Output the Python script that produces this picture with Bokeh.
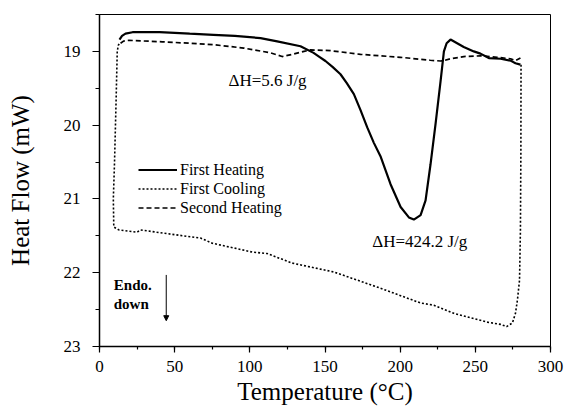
from bokeh.plotting import figure
from bokeh.models import Range1d, Legend, LegendItem, Arrow, NormalHead, Label, FixedTicker
from bokeh.embed import file_html
from bokeh.resources import INLINE

# First heating (solid)
heat1_T = [13.3, 15, 17.3, 22, 40, 60, 75.8, 90, 107.1, 118.2, 133.7, 142.4, 146, 150.3, 155,
           160.3, 164.5, 169.2, 173.5, 178.1, 182.5, 186.9, 193.6, 200.3, 205.8, 209.1, 213.6,
           216.9, 220.2, 223.5, 226.9, 229.1, 230.9, 233.5, 237.9, 242.3, 249, 253.4, 259,
           266.8, 273.4, 276.7, 280]
heat1_HF = [18.84, 18.79, 18.76, 18.74, 18.74, 18.76, 18.775, 18.79, 18.82, 18.865, 18.93,
            19.02, 19.07, 19.13, 19.21, 19.31, 19.43, 19.58, 19.79, 20.03, 20.24, 20.42, 20.80,
            21.11, 21.25, 21.28, 21.22, 21.02, 20.53, 19.99, 19.40, 19.0, 18.89, 18.84, 18.89,
            18.94, 19.0, 19.03, 19.09, 19.10, 19.125, 19.16, 19.18]

# First cooling (dotted)
cool_T = [280.4, 280.3, 280.0, 279.4, 278.0, 276.7, 274.7, 270.8, 266.8, 257.9, 235.7, 222.4,
          213.5, 186.9, 155.9, 128.2, 111.5, 101.6, 75, 67.2, 48.4, 27.3, 25, 12.9, 9.5,
          9.2, 10, 11, 11.8, 12.5, 13.5]
cool_HF = [19.18, 20.35, 21.42, 22.1, 22.37, 22.55, 22.68, 22.73, 22.70, 22.67, 22.55, 22.44,
           22.41, 22.21, 21.99, 21.87, 21.74, 21.72, 21.60, 21.53, 21.48, 21.42, 21.45, 21.42,
           21.38, 21.0, 20.5, 19.7, 19.0, 18.92, 18.88]

# Second heating (dashed)
heat2_T = [14, 16, 19.5, 41.7, 60, 76, 96, 113.8, 121.5, 128.2, 136, 140.4, 153.7, 173.6,
           200.2, 220, 226.8, 229, 233.5, 242.3, 253.4, 264.5, 273.4, 276.7, 280]
heat2_HF = [18.89, 18.86, 18.85, 18.87, 18.89, 18.91, 18.955, 19.02, 19.07, 19.04, 19.0, 18.98,
            18.99, 19.04, 19.08, 19.12, 19.13, 19.125, 19.10, 19.07, 19.06, 19.08, 19.10,
            19.125, 19.09]

x_ticks = [0, 50, 100, 150, 200, 250, 300]
y_ticks = [19, 20, 21, 22, 23]
series_names = ["First Heating", "First Cooling", "Second Heating"]

FONT = "Liberation Serif"

p = figure(width=567, height=407, output_backend="svg", toolbar_location=None,
           x_range=Range1d(0, 300), y_range=Range1d(23, 18.5),
           min_border_left=99, min_border_right=17, min_border_top=14, min_border_bottom=60)
p.background_fill_color = "white"
p.border_fill_color = "white"
p.outline_line_color = "black"
p.outline_line_width = 1
p.xgrid.visible = False
p.ygrid.visible = False

r1 = p.line(heat1_T, heat1_HF, line_color="black", line_width=2.2)
r2 = p.line(cool_T, cool_HF, line_color="black", line_width=1.6, line_dash="2 2")
r3 = p.line(heat2_T, heat2_HF, line_color="black", line_width=1.7, line_dash="5 3")

for ax in (p.xaxis[0], p.yaxis[0]):
    ax.axis_line_color = "black"
    ax.axis_line_width = 1.5
    ax.major_tick_line_color = "black"
    ax.minor_tick_line_color = "black"
    ax.major_tick_line_width = 1.2
    ax.minor_tick_line_width = 1.2
    ax.major_label_text_font = FONT
    ax.major_label_text_font_size = "17px"
    ax.major_label_text_color = "black"
    ax.axis_label_text_font = FONT
    ax.axis_label_text_font_size = "25px"
    ax.axis_label_text_font_style = "normal"
    ax.axis_label_text_color = "black"

p.xaxis.ticker = FixedTicker(ticks=x_ticks, minor_ticks=list(range(0, 301, 25)))
p.yaxis.ticker = FixedTicker(ticks=y_ticks, minor_ticks=[18.5 + 0.5 * i for i in range(10)])
p.xaxis.major_tick_out = 6
p.xaxis.major_tick_in = 0
p.xaxis.minor_tick_out = 3
p.xaxis.minor_tick_in = 0
p.yaxis.major_tick_out = 7
p.yaxis.major_tick_in = 0
p.yaxis.minor_tick_out = 4
p.yaxis.minor_tick_in = 0
p.xaxis.major_label_standoff = 8
p.yaxis.major_label_standoff = 12
p.xaxis.axis_label = "Temperature (°C)"
p.yaxis.axis_label = "Heat Flow (mW)"
p.xaxis.axis_label_standoff = 3
p.yaxis.axis_label_standoff = 27

legend = Legend(items=[LegendItem(label=series_names[0], renderers=[r1]),
                       LegendItem(label=series_names[1], renderers=[r2]),
                       LegendItem(label=series_names[2], renderers=[r3])],
                location=(39, 129), orientation="vertical")
legend.padding = 0
legend.margin = 0
legend.spacing = 0
legend.glyph_width = 39
legend.glyph_height = 19
legend.label_height = 19
legend.label_standoff = 3
legend.label_text_font = FONT
legend.label_text_font_size = "16px"
legend.label_text_color = "black"
legend.border_line_alpha = 0
legend.background_fill_alpha = 0
p.add_layout(legend, "center")

p.add_layout(Label(x=85.8, y=19.40, text="ΔH=5.6 J/g", text_font=FONT, text_font_size="17px",
                   text_baseline="middle", text_align="left", text_color="black"))
p.add_layout(Label(x=181.4, y=21.58, text="ΔH=424.2 J/g", text_font=FONT, text_font_size="17px",
                   text_baseline="middle", text_align="left", text_color="black"))
p.add_layout(Label(x=9.5, y=22.165, text="Endo.", text_font=FONT, text_font_size="15px",
                   text_font_style="bold", text_baseline="middle", text_align="left",
                   text_color="black"))
p.add_layout(Label(x=9.5, y=22.43, text="down", text_font=FONT, text_font_size="15px",
                   text_font_style="bold", text_baseline="middle", text_align="left",
                   text_color="black"))
p.add_layout(Arrow(x_start=44.4, y_start=22.03, x_end=44.4, y_end=22.65,
                   line_color="black", line_width=1,
                   end=NormalHead(size=5, fill_color="black", line_color="black")))

open("out.html", "w").write(file_html(p, INLINE))
